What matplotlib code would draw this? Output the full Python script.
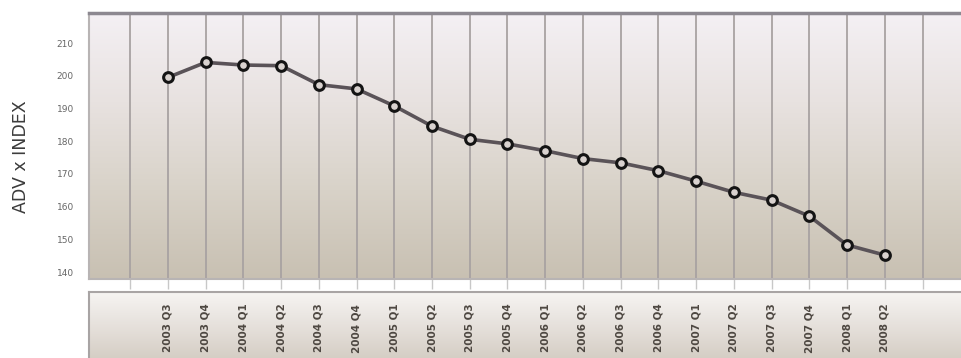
import numpy as np
import matplotlib
matplotlib.use("Agg")
from matplotlib import pyplot as plt
from matplotlib.colors import LinearSegmentedColormap

quarters = ["2003 Q3", "2003 Q4", "2004 Q1", "2004 Q2", "2004 Q3", "2004 Q4",
            "2005 Q1", "2005 Q2", "2005 Q3", "2005 Q4", "2006 Q1", "2006 Q2",
            "2006 Q3", "2006 Q4", "2007 Q1", "2007 Q2", "2007 Q3", "2007 Q4",
            "2008 Q1", "2008 Q2"]
adv_index = [199.5, 204.1, 203.3, 203.1, 197.3, 196.0, 190.8, 184.6, 180.6, 179.2,
             177.1, 174.7, 173.4, 171.0, 167.8, 164.4, 162.0, 157.1, 148.3, 145.2]
y_ticks = [140, 150, 160, 170, 180, 190, 200, 210]

W, H = 962, 358
fig = plt.figure(figsize=(W / 100, H / 100), dpi=100)
fig.patch.set_facecolor("white")

# main plot area
ax = fig.add_axes([89 / W, 1 - 279 / H, (W - 89) / W + 0.01, (279 - 13) / H])
grad = LinearSegmentedColormap.from_list("bg", ["#f4f0f4", "#e8e2e0", "#d8d2c8", "#c8c0b2"])
ax.imshow(np.linspace(0, 1, 256).reshape(-1, 1), cmap=grad, aspect="auto",
          extent=[0, 1, 0, 1], transform=ax.transAxes, zorder=0)

x = np.arange(len(quarters))
ax.set_xlim(-2.09, 21.3)
ax.set_ylim(137.9, 219.2)

# vertical grid lines (one per quarter plus one on each side)
grid_x = np.arange(-1, len(quarters) + 1)
for gx in grid_x:
    ax.axvline(gx, color="#a8a2a2", lw=1.3, zorder=1)

ax.plot(x, adv_index, color="#5a5358", lw=2.6, zorder=3,
        marker="o", markersize=7, markeredgewidth=2.2,
        markeredgecolor="#141414", markerfacecolor="#d9d2cf")

ax.set_xticks(grid_x)
ax.set_xticklabels([])
ax.tick_params(axis="x", direction="out", length=7, width=1, color="#c8c8c8")
ax.set_yticks(y_ticks)
ax.set_yticklabels([str(v) for v in y_ticks], fontsize=6.5, color="#666666")
ax.tick_params(axis="y", length=0, pad=11)
for s in ["left", "bottom"]:
    ax.spines[s].set_color("#b8b4b4")
    ax.spines[s].set_linewidth(1.5)
ax.spines["top"].set_color("#8c8890")
ax.spines["top"].set_linewidth(2.5)
ax.spines["right"].set_visible(False)

fig.text(21 / W, 1 - 157 / H, "ADV x INDEX", rotation=90, ha="center", va="center",
         fontsize=12.5, color="#3c3c3c")

# label box underneath
ax2 = fig.add_axes([89 / W, -0.05, (W - 89) / W + 0.01, 0.05 + 1 - 292 / H])
grad2 = LinearSegmentedColormap.from_list("bg2", ["#f6f4f2", "#e2dcd6", "#cbc4b8"])
ax2.imshow(np.linspace(0, 1, 256).reshape(-1, 1), cmap=grad2, aspect="auto",
           extent=[0, 1, 0, 1], transform=ax2.transAxes, zorder=0)
ax2.set_xlim(ax.get_xlim())
ax2.set_ylim(0, 1)
ax2.set_xticks([])
ax2.set_yticks([])
for s in ["left", "top"]:
    ax2.spines[s].set_color("#a8a4a4")
    ax2.spines[s].set_linewidth(1.5)
ax2.spines["bottom"].set_visible(False)
ax2.spines["right"].set_visible(False)
for xi, q in zip(x, quarters):
    ax2.text(xi, 0.86, q, rotation=90, ha="center", va="top", fontsize=7.5,
             color="#4e4842", fontweight="bold", zorder=2)

fig.savefig("out.png", dpi=100)
